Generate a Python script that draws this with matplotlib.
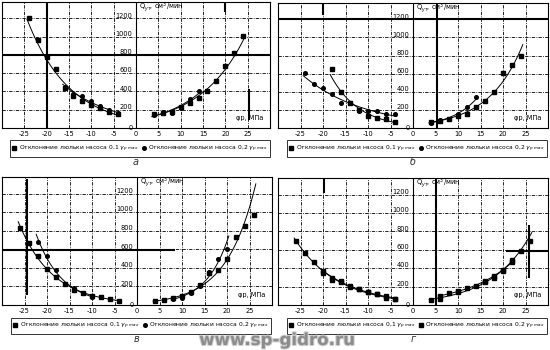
import numpy as np
import matplotlib
matplotlib.use("Agg")
import matplotlib.pyplot as plt
import matplotlib.patheffects as pe

plt.rcParams["font.family"] = ["DejaVu Sans"]

# ---- data (а, б, в, г) ----
a_sq_left_x = [-24, -22, -20, -18, -16, -14, -12, -10, -8, -6, -4]
a_sq_left_y = [1200, 960, 780, 650, 440, 350, 300, 250, 220, 180, 150]
a_ci_left_x = [-16, -14, -12, -10, -8, -6, -4]
a_ci_left_y = [450, 370, 350, 300, 240, 200, 160]
a_sq_right_x = [4, 6, 8, 10, 12, 14, 16, 18, 20, 22, 24]
a_sq_right_y = [150, 160, 180, 230, 270, 330, 410, 510, 680, 820, 1010]
a_ci_right_x = [4, 6, 8, 10, 12, 14]
a_ci_right_y = [140, 180, 165, 220, 320, 410]

b_sq_left_x = [-18, -16, -14, -12, -10, -8, -6, -4]
b_sq_left_y = [650, 400, 280, 200, 130, 110, 95, 65]
b_ci_left_x = [-24, -22, -20, -18, -16, -14, -12, -10, -8, -6, -4]
b_ci_left_y = [610, 490, 440, 370, 280, 280, 190, 190, 190, 150, 150]
b_sq_right_x = [4, 6, 8, 10, 12, 14, 16, 18, 20, 22, 24]
b_sq_right_y = [70, 80, 100, 130, 160, 230, 300, 400, 610, 700, 790]
b_ci_right_x = [4, 6, 8, 10, 12, 14]
b_ci_right_y = [60, 90, 100, 150, 230, 340]

c_sq_left_x = [-26, -24, -22, -20, -18, -16, -14, -12, -10, -8, -6, -4]
c_sq_left_y = [830, 670, 530, 390, 300, 230, 160, 125, 100, 90, 65, 45]
c_ci_left_x = [-22, -20, -18, -16, -14, -12, -10]
c_ci_left_y = [680, 530, 380, 230, 180, 125, 90]
c_sq_right_x = [4, 6, 8, 10, 12, 14, 16, 18, 20, 22, 24, 26]
c_sq_right_y = [40, 50, 80, 100, 140, 220, 340, 380, 500, 735, 855, 970]
c_ci_right_x = [8, 10, 12, 14, 16, 18, 20]
c_ci_right_y = [70, 75, 130, 210, 360, 500, 600]

d_sq_left_x = [-26, -24, -22, -20, -18, -16, -14, -12, -10, -8, -6, -4]
d_sq_left_y = [700, 560, 465, 345, 270, 260, 200, 170, 140, 115, 80, 60]
d_ci_left_x = [-20, -18, -16, -14, -12, -10, -8, -6, -4]
d_ci_left_y = [365, 290, 250, 205, 175, 145, 120, 100, 65]
d_sq_right_x = [4, 6, 8, 10, 12, 14, 16, 18, 20, 22, 24, 26]
d_sq_right_y = [55, 60, 125, 140, 180, 210, 245, 290, 365, 490, 590, 700]
d_ci_right_x = [6, 10, 16, 18, 20, 22]
d_ci_right_y = [100, 150, 260, 320, 380, 465]

X_TICKS = [-25, -20, -15, -10, -5, 0, 5, 10, 15, 20, 25]
Y_TICKS = [200, 400, 600, 800, 1000, 1200]
Y_LABELS = ["200", "400", "600", "800", "1000", "1200"]
LETTERS = ["а", "б", "в", "г"]
LEG1 = r"Отклонение люльки насоса 0,1 $\gamma_{p\ max}$"
LEG2 = r"Отклонение люльки насоса 0,2 $\gamma_{p\ max}$"

PANELS = [
    (a_sq_left_x, a_sq_left_y, a_ci_left_x, a_ci_left_y,
     a_sq_right_x, a_sq_right_y, a_ci_right_x, a_ci_right_y, "o"),
    (b_sq_left_x, b_sq_left_y, b_ci_left_x, b_ci_left_y,
     b_sq_right_x, b_sq_right_y, b_ci_right_x, b_ci_right_y, "o"),
    (c_sq_left_x, c_sq_left_y, c_ci_left_x, c_ci_left_y,
     c_sq_right_x, c_sq_right_y, c_ci_right_x, c_ci_right_y, "o"),
    (d_sq_left_x, d_sq_left_y, d_ci_left_x, d_ci_left_y,
     d_sq_right_x, d_sq_right_y, d_ci_right_x, d_ci_right_y, "s"),
]

# thick scan lines crossing each panel: (kind, pos, from, to)
THICK = [
    [("h", 800, -30, 30), ("v", -20, 0, 1380), ("v", 20, 1270, 1380),
     ("v", 25.3, 86, 432)],
    [("h", 1200, -30, 30), ("v", -20, 1250, 1380), ("v", 5.3, 0, 1380)],
    [("v", -24.5, 110, 1360), ("h", 590, -30, 8.5)],
    [("v", -19.8, 1220, 1380), ("v", 5.2, 0, 1380), ("h", 590, 20.6, 30),
     ("v", 25.8, 290, 870)],
]

# axes rectangles in pixels (left, top, right, bottom) on a 550x350 canvas
BOXES = [(2, 2, 270, 128), (278, 3, 548, 128),
         (2, 177, 272, 305), (278, 178, 548, 305)]
W, H = 550, 350


def trend(ax, xs, ys):
    xs, ys = np.asarray(xs, float), np.asarray(ys, float)
    k, b = np.polyfit(xs, np.log(ys), 1)
    t = np.linspace(xs.min() - 0.4, xs.max() + 0.4, 80)
    ax.plot(t, np.exp(k*t + b), color="black", lw=0.7, zorder=3)


fig = plt.figure(figsize=(5.5, 3.5), dpi=100)
for n, (P, box, thick) in enumerate(zip(PANELS, BOXES, THICK)):
    l, t, r, b = box
    ax = fig.add_axes([l/W, 1 - b/H, (r - l)/W, (b - t)/H])
    ax.set_xlim(-30, 30)
    ax.set_ylim(0, 1380)
    m2 = P[8]
    sq = ci = None
    for xs, ys, mk in ((P[0], P[1], "s"), (P[2], P[3], m2),
                       (P[4], P[5], "s"), (P[6], P[7], m2)):
        h, = ax.plot(xs, ys, ls="none", marker=mk, ms=2.6, color="black",
                     zorder=4)
        trend(ax, xs, ys)
        if mk == "s" and sq is None:
            sq = h
        elif ci is None and xs is P[2]:
            ci = h
    for v in X_TICKS:
        if v != 0:
            ax.axvline(v, color="black", lw=0.6, ls=(0, (4, 1.5, 1, 1.5)),
                       zorder=1)
    ax.axvline(0, color="black", lw=0.8, zorder=2)
    for v in Y_TICKS:
        ax.axhline(v, color="black", lw=0.6, ls=(0, (4, 1.5, 1, 1.5)),
                   zorder=1)
    for kind, pos, s, e in thick:
        if kind == "h":
            ax.plot([s, e], [pos, pos], color="black", lw=1.5, zorder=2,
                    solid_capstyle="butt")
        else:
            ax.plot([pos, pos], [s, e], color="black", lw=1.5, zorder=2,
                    solid_capstyle="butt")
    for v, s in zip(Y_TICKS, Y_LABELS):
        ax.text(-0.8, v + 30, s, ha="right", va="center", fontsize=4.8)
    ax.text(-0.8, 0, "0", ha="right", va="center", fontsize=4.8)
    ax.text(0.6, 1320, r"Q$_{ут}$, см$^3$/мин", ha="left", va="center",
            fontsize=4.8)
    ax.text(25.5, 110, "φр, МПа", ha="center", va="center", fontsize=4.8)
    ax.set_xticks(X_TICKS)
    ax.set_xticklabels([str(v) for v in X_TICKS])
    ax.set_yticks([])
    ax.tick_params(axis="x", length=0, pad=2.5, labelsize=4.8)
    for sp in ax.spines.values():
        sp.set_linewidth(0.8)
    leg = ax.legend([sq, ci], [LEG1, LEG2], loc="upper center",
                    bbox_to_anchor=(0.515, -0.075), ncol=2, fontsize=4.3,
                    frameon=True, fancybox=False, edgecolor="black",
                    handlelength=0.6, handletextpad=0.4, columnspacing=0.6,
                    borderpad=0.5, markerscale=1.0)
    leg.get_frame().set_linewidth(0.7)
    fig.text(((l + r)/2)/W, 1 - (b + 34)/H, LETTERS[n], ha="center",
             va="center", fontsize=7, style="italic", color="#333333")

fig.text(277/W, 1 - 340/H, "www.sp-gidro.ru", ha="center", va="center",
         fontsize=12, fontweight="bold", color="#8c8c8c", zorder=10,
         path_effects=[pe.withStroke(linewidth=1.5, foreground="#d0d0d0")])

fig.savefig("out.png", dpi=100)
